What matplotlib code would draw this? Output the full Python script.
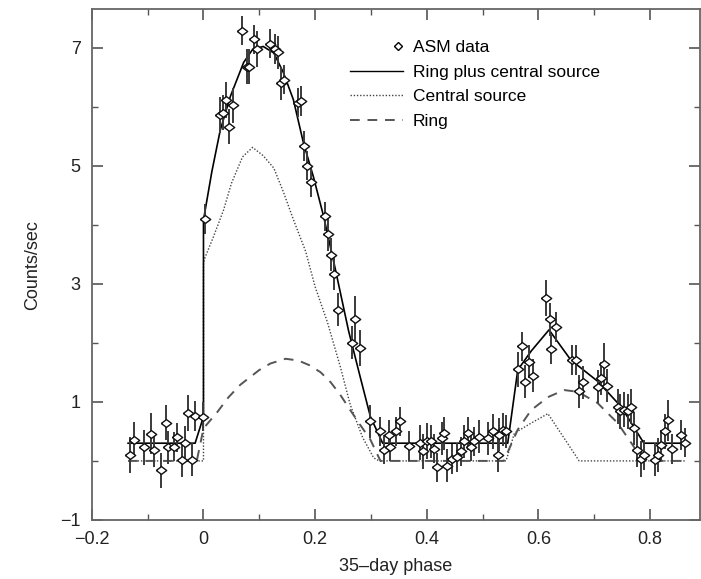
import matplotlib
matplotlib.use("Agg")
import matplotlib.pyplot as plt
from matplotlib.lines import Line2D
from matplotlib.legend_handler import HandlerLine2D
from matplotlib.ticker import MultipleLocator, FuncFormatter

plt.rcParams["font.family"] = ["Liberation Sans", "DejaVu Sans"]

# ASM data points (phase, counts/sec, error)
phase = [-0.131, -0.124, -0.106, -0.094, -0.089, -0.076, -0.068, -0.063,
         -0.053, -0.047, -0.039, -0.033, -0.027, -0.020, -0.015, 0.000,
         0.003, 0.029, 0.035, 0.040, 0.046, 0.052, 0.069, 0.078,
         0.082, 0.090, 0.096, 0.120, 0.128, 0.133, 0.138, 0.144,
         0.169, 0.175, 0.180, 0.186, 0.193, 0.217, 0.223, 0.229,
         0.234, 0.241, 0.266, 0.272, 0.280, 0.299, 0.316, 0.324,
         0.332, 0.335, 0.344, 0.352, 0.368, 0.388, 0.394, 0.401,
         0.408, 0.413, 0.419, 0.427, 0.431, 0.436, 0.446, 0.454,
         0.461, 0.467, 0.473, 0.479, 0.485, 0.494, 0.509, 0.518,
         0.527, 0.530, 0.536, 0.542, 0.564, 0.570, 0.576, 0.584,
         0.590, 0.613, 0.620, 0.622, 0.631, 0.661, 0.667, 0.673,
         0.679, 0.706, 0.712, 0.717, 0.723, 0.742, 0.747, 0.754,
         0.761, 0.766, 0.772, 0.777, 0.783, 0.790, 0.808, 0.814,
         0.820, 0.826, 0.832, 0.839, 0.856, 0.862]
rate = [0.10, 0.36, 0.23, 0.46, 0.19, -0.16, 0.65, 0.23,
        0.24, 0.40, 0.02, 0.31, 0.81, 0.02, 0.76, 0.75,
        4.10, 5.86, 5.90, 6.11, 5.66, 6.02, 7.29, 6.68,
        6.68, 7.14, 6.98, 7.07, 6.98, 6.92, 6.40, 6.46,
        6.07, 6.10, 5.33, 5.00, 4.72, 4.14, 3.84, 3.49,
        3.17, 2.56, 2.00, 2.41, 1.91, 0.67, 0.50, 0.19,
        0.44, 0.24, 0.50, 0.67, 0.25, 0.31, 0.16, 0.34,
        0.33, 0.21, -0.11, 0.38, 0.47, -0.08, 0.03, 0.06,
        0.16, 0.33, 0.47, 0.24, 0.33, 0.41, 0.38, 0.50,
        0.10, 0.44, 0.53, 0.50, 1.55, 1.94, 1.34, 1.68,
        1.44, 2.76, 2.40, 1.89, 2.27, 1.71, 1.71, 1.18,
        1.33, 1.26, 1.40, 1.64, 1.27, 0.92, 0.84, 0.87,
        0.84, 0.92, 0.55, 0.19, 0.03, 0.10, 0.02, 0.10,
        0.27, 0.50, 0.69, 0.20, 0.44, 0.31]
err = [0.30, 0.30, 0.30, 0.35, 0.30, 0.30, 0.30, 0.28,
       0.25, 0.25, 0.30, 0.28, 0.30, 0.28, 0.25, 0.25,
       0.25, 0.30, 0.30, 0.30, 0.30, 0.30, 0.25, 0.30,
       0.30, 0.25, 0.30, 0.25, 0.25, 0.28, 0.28, 0.25,
       0.25, 0.25, 0.25, 0.25, 0.25, 0.25, 0.28, 0.28,
       0.28, 0.28, 0.28, 0.38, 0.30, 0.28, 0.25, 0.25,
       0.25, 0.25, 0.25, 0.25, 0.25, 0.30, 0.30, 0.30,
       0.28, 0.25, 0.25, 0.28, 0.28, 0.28, 0.25, 0.25,
       0.25, 0.28, 0.28, 0.25, 0.25, 0.28, 0.28, 0.30,
       0.28, 0.28, 0.28, 0.28, 0.30, 0.25, 0.28, 0.28,
       0.28, 0.30, 0.28, 0.25, 0.25, 0.25, 0.25, 0.28,
       0.28, 0.28, 0.28, 0.35, 0.28, 0.30, 0.30, 0.30,
       0.30, 0.30, 0.28, 0.30, 0.30, 0.25, 0.28, 0.28,
       0.25, 0.30, 0.35, 0.25, 0.25, 0.25]

# model curves
total_x = [-0.135, -0.015, 0.0, 0.0, 0.015, 0.03, 0.048, 0.072, 0.088, 0.107,
           0.126, 0.143, 0.161, 0.179, 0.197, 0.215, 0.235, 0.26, 0.28, 0.299,
           0.321, 0.545, 0.563, 0.587, 0.619, 0.658, 0.706, 0.748, 0.789, 0.865]
total_y = [0.3, 0.3, 0.75, 4.08, 4.9, 5.6, 6.17, 6.75, 6.97, 7.02,
           6.91, 6.58, 6.12, 5.39, 4.81, 4.15, 3.3, 2.2, 1.45, 0.75,
           0.3, 0.3, 1.54, 1.86, 2.22, 1.71, 1.35, 0.92, 0.3, 0.3]

central_x = [-0.135, 0.0, 0.0, 0.003, 0.018, 0.036, 0.05, 0.07, 0.088, 0.107,
             0.126, 0.143, 0.161, 0.183, 0.2, 0.222, 0.245, 0.263, 0.285, 0.305,
             0.315, 0.542, 0.557, 0.587, 0.617, 0.673, 0.865]
central_y = [0.0, 0.0, 3.36, 3.45, 3.8, 4.25, 4.7, 5.15, 5.31, 5.17,
             4.96, 4.56, 4.09, 3.55, 2.95, 2.35, 1.6, 0.95, 0.4, 0.05,
             0.0, 0.0, 0.47, 0.64, 0.8, 0.0, 0.0]

ring_x = [-0.135, -0.012, 0.0, 0.025, 0.045, 0.066, 0.1, 0.12, 0.147, 0.17,
          0.19, 0.21, 0.228, 0.245, 0.263, 0.28, 0.299, 0.317, 0.538, 0.563,
          0.587, 0.617, 0.646, 0.671, 0.706, 0.742, 0.771, 0.784, 0.865]
ring_y = [0.0, 0.0, 0.55, 0.83, 1.08, 1.29, 1.54, 1.65, 1.73, 1.70,
          1.62, 1.5, 1.33, 1.12, 0.86, 0.62, 0.36, 0.0, 0.0, 0.53,
          0.86, 1.08, 1.2, 1.17, 0.98, 0.64, 0.24, 0.0, 0.0]


class RightMarker(HandlerLine2D):
    # legend marker sits at the right end of the handle box
    def get_xdata(self, legend, xdescent, ydescent, width, height, fontsize):
        x = width - xdescent - 3
        return [x - 1, x + 1], [x - 1, x + 1]


fig = plt.figure(figsize=(7.01, 5.79), dpi=100)
ax = fig.add_axes([0.131, 0.102, 0.868, 0.882])

wide_diamond = [(-1, 0), (0, 0.75), (1, 0), (0, -0.75), (-1, 0)]

ax.plot(total_x, total_y, color="black", lw=1.2, zorder=3)
ax.plot(central_x, central_y, color="#444444", lw=1.0,
        linestyle=(0, (1, 1.3)), zorder=2)
ax.plot(ring_x, ring_y, color="#555555", lw=1.4,
        linestyle=(0, (5, 4)), zorder=2)
ax.errorbar(phase, rate, yerr=err, fmt="none", ecolor="#3a3a3a",
            elinewidth=1.4, capsize=0, zorder=4)
ax.plot(phase, rate, linestyle="none", marker=wide_diamond, markersize=7.5,
        markerfacecolor="white", markeredgecolor="#111111",
        markeredgewidth=1.0, zorder=5)

ax.set_xlim(-0.2, 0.89)
ax.set_ylim(-1, 7.65)
ax.xaxis.set_major_locator(MultipleLocator(0.2))
ax.xaxis.set_minor_locator(MultipleLocator(0.1))
ax.set_yticks([-1, 1, 3, 5, 7])
ax.yaxis.set_minor_locator(MultipleLocator(1))
ax.xaxis.set_major_formatter(
    FuncFormatter(lambda v, p: ("%g" % round(v, 2)).replace("-", "\u2212")))
ax.yaxis.set_major_formatter(
    FuncFormatter(lambda v, p: ("%g" % v).replace("-", "\u2212")))

ax.tick_params(which="both", direction="in", top=True, right=True,
               color="#555555", labelsize=13, labelcolor="#222222")
ax.tick_params(which="major", length=8, width=1.2, pad=8)
ax.tick_params(which="minor", length=4, width=1.0)
for s in ax.spines.values():
    s.set_color("#666666")
    s.set_linewidth(1.3)

ax.set_xlabel("35\u2013day phase", fontsize=13, color="#222222", labelpad=7)
ax.set_ylabel("Counts/sec", fontsize=13, color="#222222", labelpad=14)

h_data = Line2D([], [], linestyle="none", marker="D", markersize=4,
                markerfacecolor="white", markeredgecolor="black",
                markeredgewidth=1.0)
h_tot = Line2D([], [], color="black", lw=1.0)
h_cen = Line2D([], [], color="#444444", lw=1.0, linestyle=(0, (1, 1.3)))
h_ring = Line2D([], [], color="#555555", lw=1.4, linestyle=(0, (5, 4)))
ax.legend([h_data, h_tot, h_cen, h_ring],
          ["ASM data", "Ring plus central source", "Central source", "Ring"],
          handler_map={h_data: RightMarker(numpoints=1)},
          loc="upper left", bbox_to_anchor=(0.425, 0.94), frameon=False,
          fontsize=12.5, handlelength=3.0, handletextpad=0.6,
          labelspacing=0.55, borderaxespad=0, borderpad=0)

fig.savefig("out.png", dpi=100)
